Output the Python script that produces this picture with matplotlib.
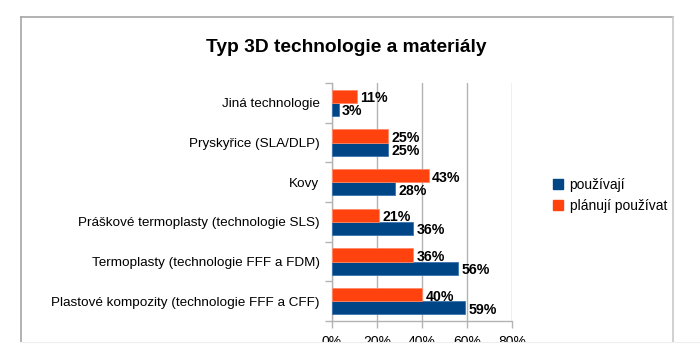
import matplotlib
matplotlib.use("Agg")
import matplotlib.pyplot as plt
from matplotlib.patches import Rectangle
from matplotlib.lines import Line2D
import numpy as np

plt.rcParams['font.family'] = ['Liberation Sans', 'DejaVu Sans']

categories = [
    "Plastové kompozity (technologie FFF a CFF)",
    "Termoplasty (technologie FFF a FDM)",
    "Práškové termoplasty (technologie SLS)",
    "Kovy",
    "Pryskyřice (SLA/DLP)",
    "Jiná technologie",
]
pouzivaji = [59, 56, 36, 28, 25, 3]
planuji = [40, 36, 21, 43, 25, 11]
series_names = ["používají", "plánují používat"]
xticks = [0, 20, 40, 60, 80]
xtick_labels = ["0%", "20%", "40%", "60%", "80%"]

blue = "#004586"
orange = "#ff420e"
grid_gray = "#b3b3b3"

W, H = 700, 352
fig = plt.figure(figsize=(7, 3.52), dpi=100)

def fx(px):
    return px / W

def fy(py):
    return (H - py) / H

ax = fig.add_axes([fx(332), fy(321), fx(512) - fx(332), fy(83) - fy(321)])

y = np.arange(len(categories))
h = 0.33
ax.barh(y - h / 2, pouzivaji, height=h, color=blue, edgecolor="#3c74b0", linewidth=0.6, zorder=3)
ax.barh(y + h / 2, planuji, height=h, color=orange, edgecolor="#ff8a66", linewidth=0.6, zorder=3)

for i in range(len(categories)):
    ax.text(pouzivaji[i] + 1.5, y[i] - h / 2 - 0.05, f"{pouzivaji[i]}%", va="center", ha="left",
            fontsize=10.2, fontweight="bold", color="#000000", zorder=4)
    ax.text(planuji[i] + 1.5, y[i] + h / 2 - 0.05, f"{planuji[i]}%", va="center", ha="left",
            fontsize=10.2, fontweight="bold", color="#000000", zorder=4)

ax.set_xlim(0, 80)
ax.set_ylim(-0.5, len(categories) - 0.5)
ax.set_xticks(xticks)
ax.set_xticklabels(xtick_labels, fontsize=10)
ax.set_yticks(y)
ax.set_yticklabels(categories, fontsize=9.7)
ax.tick_params(axis="y", length=0, pad=9)
ax.set_yticks(np.arange(-0.5, len(categories), 1.0), minor=True)
ax.tick_params(axis="y", which="minor", length=5, color=grid_gray, width=1)
ax.tick_params(axis="x", length=5, color=grid_gray, width=1, pad=5)
ax.grid(axis="x", color=grid_gray, linewidth=1, zorder=0)
for s in ["top", "right"]:
    ax.spines[s].set_visible(False)
for s in ["left", "bottom"]:
    ax.spines[s].set_color(grid_gray)
    ax.spines[s].set_linewidth(1)

# title
fig.text(fx(346), fy(47), "Typ 3D technologie a materiály", ha="center", va="center",
         fontsize=13.8, fontweight="bold")

# legend
handles = [Rectangle((0, 0), 1, 1, color=blue), Rectangle((0, 0), 1, 1, color=orange)]
fig.legend(handles, series_names, loc="upper left", bbox_to_anchor=(fx(553), fy(178)),
           frameon=False, fontsize=10, handlelength=0.7, handleheight=0.7,
           handletextpad=0.5, labelspacing=0.5, borderaxespad=0, borderpad=0)

# outer frame (clipped at the bottom)
fig.add_artist(Line2D([fx(21), fx(21)], [fy(342), fy(17)], color="#a6a6a6", linewidth=1.2))
fig.add_artist(Line2D([fx(21), fx(673)], [fy(17), fy(17)], color="#a6a6a6", linewidth=1.2))
fig.add_artist(Line2D([fx(673), fx(673)], [fy(17), fy(342)], color="#c8c8c8", linewidth=1.2))

# white strip covering bottom (screenshot cut)
fig.add_artist(Rectangle((0, 0), 1, fy(342), transform=fig.transFigure, facecolor="white",
                         edgecolor="none", zorder=10))
fig.add_artist(Line2D([fx(21), 1], [fy(342), fy(342)], color="#eeeeee", linewidth=0.8, zorder=11))

fig.savefig("out.png", dpi=100)
